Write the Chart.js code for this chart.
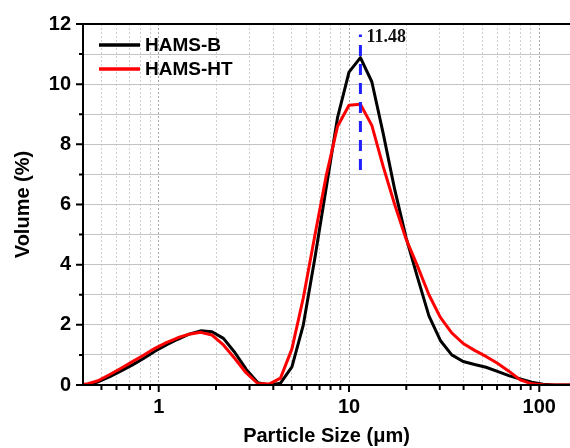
<!DOCTYPE html>
<html>
<head>
<meta charset="utf-8">
<script src="https://cdn.jsdelivr.net/npm/chart.js@4/dist/chart.umd.min.js"></script>
<style>
  body { margin: 0; background: #fff; }
  #wrap { width: 570px; height: 448px; }
</style>
</head>
<body>
<div id="wrap"><canvas id="psd" width="570" height="448"></canvas></div>
<script>
// particle size bins (um)
const sizes = [0.363, 0.417, 0.479, 0.550, 0.631, 0.724, 0.832, 0.955, 1.096, 1.259,
  1.445, 1.660, 1.905, 2.188, 2.512, 2.884, 3.311, 3.802, 4.365, 5.012,
  5.754, 6.607, 7.586, 8.710, 10.00, 11.48, 13.18, 15.14, 17.38, 19.95,
  22.91, 26.30, 30.20, 34.67, 39.81, 45.71, 52.48, 60.26, 69.18, 79.43,
  91.20, 104.7, 120.2, 138.0, 158.5];

// volume (%) per bin
const hamsB = [0, 0.01, 0.10, 0.27, 0.46, 0.66, 0.88, 1.12, 1.33, 1.52,
  1.69, 1.80, 1.77, 1.55, 1.08, 0.52, 0.08, 0.00, 0.06, 0.60,
  2.00, 4.20, 6.55, 8.90, 10.40, 10.88, 10.08, 8.35, 6.50, 4.90,
  3.58, 2.30, 1.48, 1.00, 0.78, 0.68, 0.59, 0.45, 0.31, 0.20,
  0.09, 0.025, 0, 0, 0];

const hamsHT = [0, 0.03, 0.14, 0.34, 0.55, 0.77, 0.99, 1.22, 1.41, 1.57,
  1.69, 1.75, 1.66, 1.33, 0.88, 0.40, 0.05, 0.03, 0.23, 1.20,
  2.90, 4.95, 6.95, 8.60, 9.30, 9.33, 8.63, 7.25, 6.00, 4.85,
  3.95, 3.00, 2.25, 1.73, 1.38, 1.15, 0.95, 0.72, 0.46, 0.17,
  0.04, 0.01, 0, 0, 0];

// peak marker
const peakX = 11.48;
const peakRange = [7.15, 11.65];
const peakText = "11.48";

// axes
const xGrid = [0.5, 0.6, 0.7, 0.8, 0.9, 1, 2, 3, 4, 5, 6, 7, 8, 9,
  10, 20, 30, 40, 50, 60, 70, 80, 90, 100];
const xLabels = [1, 10, 100];
const yLabels = [0, 2, 4, 6, 8, 10, 12];

const FONT = "'Liberation Sans', Arial, sans-serif";

const toPoints = (xs, ys) => xs.map((x, i) => ({ x: x, y: ys[i] }));

// frame, tick marks, legend and peak label
const decorations = {
  id: "decorations",
  afterDatasetsDraw(chart) {
    const { ctx, chartArea: a, scales: { x, y } } = chart;
    ctx.save();
    ctx.strokeStyle = "#000";
    ctx.lineWidth = 2;

    // frame
    ctx.beginPath();
    ctx.moveTo(a.left, a.top);
    ctx.lineTo(a.right, a.top);
    ctx.moveTo(a.left, a.top - 1);
    ctx.lineTo(a.left, a.bottom + 1);
    ctx.moveTo(a.left - 1, a.bottom);
    ctx.lineTo(a.right, a.bottom);
    ctx.stroke();

    // tick marks
    ctx.beginPath();
    y.ticks.forEach(t => {
      const py = y.getPixelForValue(t.value);
      const len = yLabels.includes(t.value) ? 7 : 4;
      ctx.moveTo(a.left, py);
      ctx.lineTo(a.left - len, py);
    });
    x.ticks.forEach(t => {
      const px = x.getPixelForValue(t.value);
      const len = xLabels.includes(t.value) ? 7 : 5;
      ctx.moveTo(px, a.bottom);
      ctx.lineTo(px, a.bottom + len);
    });
    ctx.stroke();

    // legend
    ctx.font = "bold 19px " + FONT;
    ctx.textBaseline = "middle";
    ctx.textAlign = "left";
    chart.data.datasets.slice(0, 2).forEach((ds, i) => {
      const ly = a.top + 21 + i * 24;
      ctx.strokeStyle = ds.borderColor;
      ctx.lineWidth = 3.5;
      ctx.beginPath();
      ctx.moveTo(a.left + 16, ly);
      ctx.lineTo(a.left + 57, ly);
      ctx.stroke();
      ctx.fillStyle = "#000";
      ctx.fillText(ds.label, a.left + 62, ly + 1);
    });

    // peak label
    ctx.font = "bold 18px 'Liberation Serif', 'Times New Roman', serif";
    ctx.fillStyle = "#111";
    ctx.fillText(peakText, x.getPixelForValue(peakX) + 6, y.getPixelForValue(11.54));
    ctx.restore();
  }
};

new Chart(document.getElementById("psd"), {
  type: "line",
  data: {
    datasets: [
      {
        label: "HAMS-B",
        data: toPoints(sizes, hamsB),
        borderColor: "#000000",
        borderWidth: 3,
        pointRadius: 0,
        tension: 0,
        order: 2
      },
      {
        label: "HAMS-HT",
        data: toPoints(sizes, hamsHT),
        borderColor: "#ff0000",
        borderWidth: 3,
        pointRadius: 0,
        tension: 0,
        order: 1
      },
      {
        label: "peak",
        data: [{ x: peakX, y: peakRange[0] }, { x: peakX, y: peakRange[1] }],
        borderColor: "#1f1fff",
        borderWidth: 3,
        borderDash: [11, 8],
        borderCapStyle: "butt",
        pointRadius: 0,
        order: 0
      }
    ]
  },
  options: {
    responsive: false,
    animation: false,
    events: [],
    layout: { padding: { left: 0, top: 21, right: 0, bottom: 0 } },
    plugins: { legend: { display: false }, tooltip: { enabled: false } },
    elements: { line: { borderJoinStyle: "round" } },
    scales: {
      x: {
        type: "logarithmic",
        min: 0.4,
        max: 145,
        afterFit: s => { s.height = 63; },
        afterBuildTicks: s => { s.ticks = xGrid.map(v => ({ value: v, major: xLabels.includes(v) })); },
        grid: {
          drawTicks: false,
          lineWidth: 1,
          color: c => (c.tick && xLabels.includes(c.tick.value)) ? "#a8a8a8" : "#cfcfcf"
        },
        border: { display: false, dash: [2, 2] },
        ticks: {
          autoSkip: false,
          maxRotation: 0,
          padding: 10,
          color: "#000",
          font: { family: FONT, size: 20, weight: "bold" },
          callback: v => xLabels.includes(v) ? String(v) : ""
        },
        title: {
          display: true,
          text: "Particle Size (\u03bcm)",
          color: "#000",
          font: { family: FONT, size: 20, weight: "bold", lineHeight: 1.2 },
          padding: { top: 0, bottom: 0 }
        }
      },
      y: {
        min: 0,
        max: 12,
        afterFit: s => { s.width = 83; },
        grid: { drawTicks: false, color: "#c4c4c4", lineWidth: 1 },
        border: { display: false },
        ticks: {
          stepSize: 1,
          padding: 12,
          color: "#000",
          font: { family: FONT, size: 20, weight: "bold" },
          callback: v => yLabels.includes(v) ? String(v) : ""
        },
        title: {
          display: true,
          text: "Volume (%)",
          color: "#000",
          font: { family: FONT, size: 20, weight: "bold", lineHeight: 1.2 },
          padding: { top: 11, bottom: 0 }
        }
      }
    }
  },
  plugins: [decorations]
});
</script>
</body>
</html>
